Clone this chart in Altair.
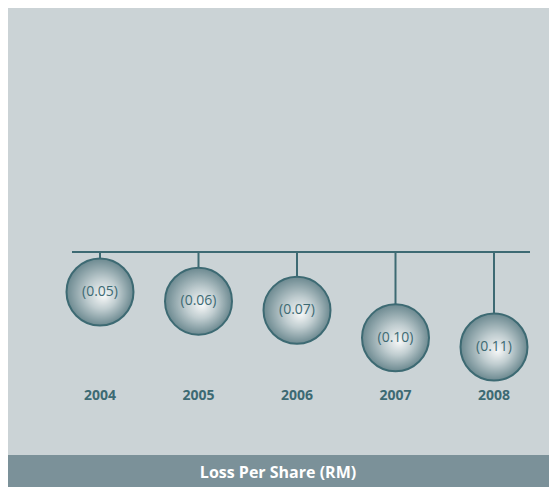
import altair as alt
import pandas as pd

years = [2004, 2005, 2006, 2007, 2008]
loss = [0.05, 0.06, 0.07, 0.10, 0.11]
labels = ["(0.05)", "(0.06)", "(0.07)", "(0.10)", "(0.11)"]
title_text = "Loss Per Share (RM)"

df = pd.DataFrame({"year": years, "loss": loss, "label": labels, "ytxt": [str(y) for y in years]})

TEAL = "#3d6a73"
BG = "#cbd3d6"
BANNER = "#7b9199"

W, H = 541, 479

xs = alt.Scale(domain=[2004, 2008], range=[92, 486])
ys = alt.Scale(domain=[0.05, 0.11], range=[284, 339])

base = alt.Chart(df)

hline = base.mark_rule(color=TEAL, strokeWidth=2).encode(
    x=alt.value(64), x2=alt.value(522), y=alt.value(244)
).transform_filter("datum.year == 2004")

stems = base.mark_rule(color=TEAL, strokeWidth=2).encode(
    x=alt.X("year:Q", scale=xs, axis=None),
    y=alt.Y("loss:Q", scale=ys, axis=None),
    y2=alt.value(244),
)

grad = alt.RadialGradient(
    gradient="radial",
    x1=0.56, y1=0.56, r1=0.0,
    x2=0.5, y2=0.5, r2=0.5,
    stops=[
        alt.GradientStop(offset=0, color="#f7f8f8"),
        alt.GradientStop(offset=0.45, color="#c0cdd0"),
        alt.GradientStop(offset=1, color="#6c8990"),
    ],
)

balls = base.mark_circle(size=4489, opacity=1, fill=grad, stroke=TEAL, strokeWidth=2).encode(
    x=alt.X("year:Q", scale=xs, axis=None),
    y=alt.Y("loss:Q", scale=ys, axis=None),
)

vals = base.mark_text(font="Open Sans", fontSize=14, color=TEAL).encode(
    x=alt.X("year:Q", scale=xs, axis=None),
    y=alt.Y("loss:Q", scale=ys, axis=None),
    text="label:N",
)

yrs = base.mark_text(font="Open Sans", fontSize=14, fontWeight="bold", color=TEAL).encode(
    x=alt.X("year:Q", scale=xs, axis=None),
    y=alt.value(388),
    text="ytxt:N",
)

banner = base.mark_rect(color=BANNER).encode(
    x=alt.value(0), x2=alt.value(W), y=alt.value(447), y2=alt.value(H)
).transform_filter("datum.year == 2004")

btxt = base.mark_text(font="Open Sans", fontSize=16, fontWeight="bold", color="white").encode(
    x=alt.value(270), y=alt.value(465), text=alt.value(title_text)
).transform_filter("datum.year == 2004")

chart = alt.layer(hline, stems, balls, vals, yrs, banner, btxt).properties(
    width=W, height=H, padding=0, autosize=alt.AutoSizeParams(type="none"),
    background=BG,
).configure_view(stroke=None)

chart.save("out.html", embed_options={"renderer": "svg", "actions": False})
